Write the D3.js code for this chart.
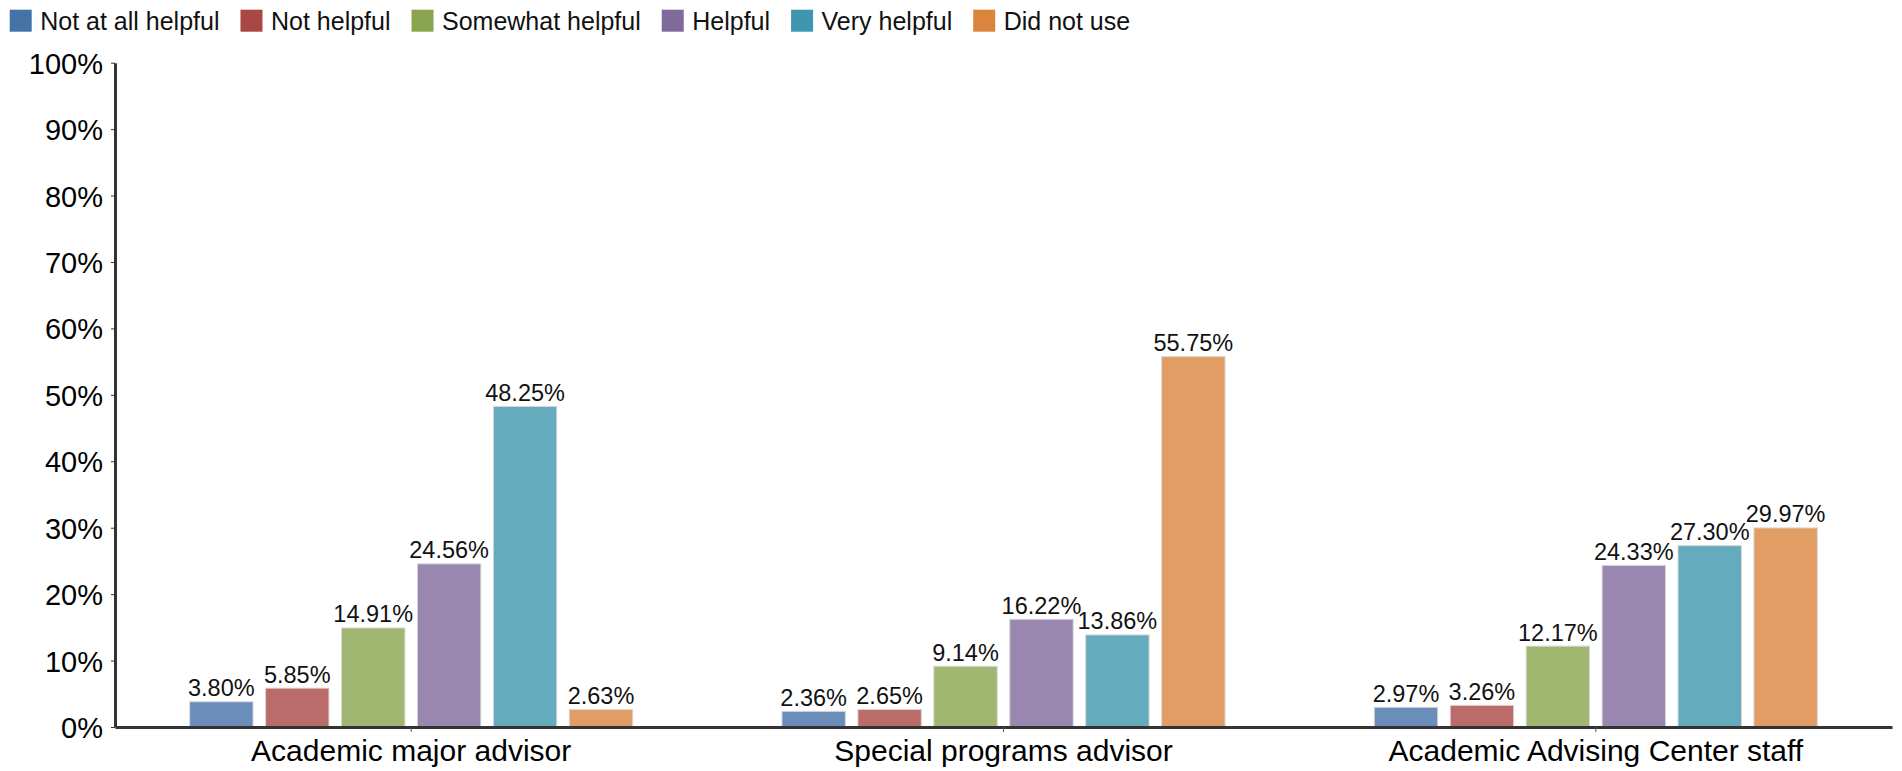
<!DOCTYPE html>
<html>
<head>
<meta charset="utf-8">
<script src="https://cdn.jsdelivr.net/npm/d3@7"></script>
<style>
  html, body { margin: 0; padding: 0; background: #fff; }
  svg { display: block; font-family: "Liberation Sans", Arial, sans-serif; }
</style>
</head>
<body>
<svg id="chart" width="1902" height="771"></svg>
<script>
const categories = ["Academic major advisor", "Special programs advisor", "Academic Advising Center staff"];
const seriesNames = ["Not at all helpful", "Not helpful", "Somewhat helpful", "Helpful", "Very helpful", "Did not use"];
const seriesColors = ["#4572A7", "#AA4643", "#89A54E", "#80699B", "#3D96AE", "#DB843D"];
const notAtAllHelpful = [3.80, 2.36, 2.97];
const notHelpful = [5.85, 2.65, 3.26];
const somewhatHelpful = [14.91, 9.14, 12.17];
const helpful = [24.56, 16.22, 24.33];
const veryHelpful = [48.25, 13.86, 27.30];
const didNotUse = [2.63, 55.75, 29.97];
const yTicks = [0, 10, 20, 30, 40, 50, 60, 70, 80, 90, 100];

const seriesValues = [notAtAllHelpful, notHelpful, somewhatHelpful, helpful, veryHelpful, didNotUse];

(function () {
const svg = d3.select("#chart");
const mLeft = 115, mRight = 1892, mTop = 62.7, mBottom = 727;

const x0 = d3.scaleBand().domain(categories).range([mLeft, mRight])
  .paddingInner(0.252).paddingOuter(0.126);
const x1 = d3.scaleBand().domain(seriesNames).range([0, x0.bandwidth()])
  .paddingInner(0.165).paddingOuter(0);
const y = d3.scaleLinear().domain([0, 100]).range([mBottom, mTop]);

// Bars
const groups = svg.append("g").selectAll("g")
  .data(categories)
  .join("g")
  .attr("transform", d => `translate(${x0(d)},0)`);

groups.each(function(cat, ci) {
  const g = d3.select(this);
  const data = seriesNames.map((s, si) => ({ s, si, v: seriesValues[si][ci] }));
  g.selectAll("rect").data(data).join("rect")
    .attr("x", d => x1(d.s))
    .attr("y", d => y(d.v))
    .attr("width", x1.bandwidth())
    .attr("height", d => y(0) - y(d.v))
    .attr("fill", d => seriesColors[d.si])
    .attr("fill-opacity", 0.8)
    .attr("stroke", "#d8d8d8")
    .attr("stroke-width", 1);
  g.selectAll("text").data(data).join("text")
    .attr("x", d => x1(d.s) + x1.bandwidth() / 2)
    .attr("y", d => y(d.v) - 5.5)
    .attr("text-anchor", "middle")
    .attr("font-size", "23.5px")
    .attr("fill", "#111")
    .text(d => d.v.toFixed(2) + "%");
});

// Y axis
const yAxis = svg.append("g")
  .attr("transform", `translate(${mLeft},0)`)
  .call(d3.axisLeft(y).tickValues(yTicks).tickFormat(d => d + "%").tickSize(4).tickSizeOuter(0).tickPadding(8));
yAxis.select(".domain").attr("stroke", "#333").attr("stroke-width", 3);
yAxis.selectAll(".tick line").attr("stroke", "#333").attr("stroke-width", 1);
yAxis.selectAll(".tick text").attr("font-size", "29px").attr("fill", "#000")
  .attr("dy", "0.36em").attr("font-family", "'Liberation Sans', Arial, sans-serif");

// X axis
const xAxis = svg.append("g")
  .attr("transform", `translate(0,${mBottom})`)
  .call(d3.axisBottom(x0).tickSize(5).tickSizeOuter(0).tickPadding(7.7));
xAxis.select(".domain").attr("stroke", "#333").attr("stroke-width", 3);
xAxis.selectAll(".tick line").attr("stroke", "#555").attr("stroke-width", 1);
xAxis.selectAll(".tick text").attr("font-size", "30px").attr("fill", "#000")
  .attr("font-family", "'Liberation Sans', Arial, sans-serif");

// Legend
const legend = svg.append("g");
let lx = 9.7;
seriesNames.forEach((name, i) => {
  const item = legend.append("g").attr("transform", `translate(${lx},0)`);
  item.append("rect").attr("x", 0).attr("y", 9.7).attr("width", 22).attr("height", 22)
    .attr("fill", seriesColors[i]);
  const t = item.append("text").attr("x", 30.5).attr("y", 29.5)
    .attr("font-size", "25px").attr("fill", "#111").text(name);
  const w = t.node().getComputedTextLength();
  lx += 30.5 + w + 21;
});
})();
</script>
</body>
</html>
